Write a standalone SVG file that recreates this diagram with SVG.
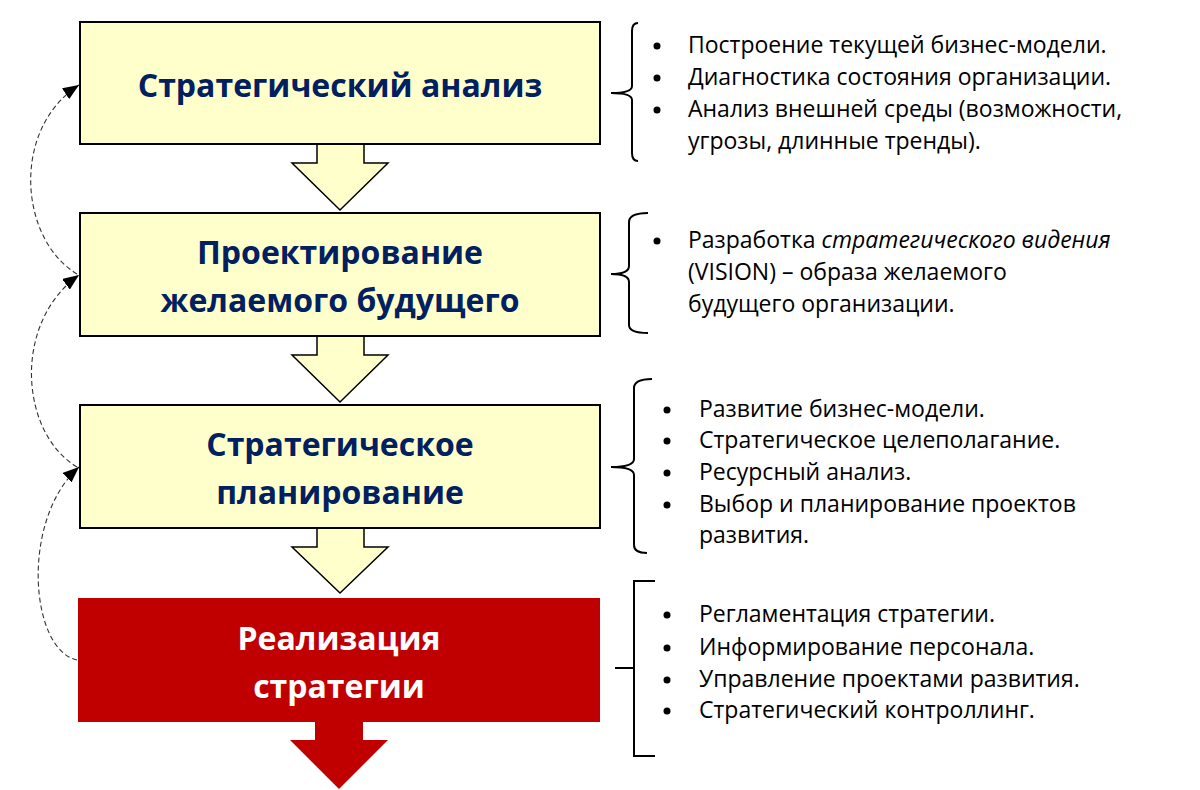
<svg xmlns="http://www.w3.org/2000/svg" width="1200" height="790" viewBox="0 0 1200 790">
<defs>
<style>
.box{fill:#FFFFCC;stroke:#000;stroke-width:2}
.red{fill:#C00000}
.title{font-family:"Open Sans","Noto Sans","DejaVu Sans",sans-serif;font-weight:bold;font-size:32px;fill:#002060;text-anchor:middle}
.wtitle{fill:#FFFFFF}
.txt{font-family:"Open Sans","Noto Sans","DejaVu Sans",sans-serif;font-size:23px;fill:#000}
.brace{fill:none;stroke:#000;stroke-width:2}
.dash{fill:none;stroke:#333;stroke-width:1.1;stroke-dasharray:5 3}
.blk{fill:#FFFFCC;stroke:#000;stroke-width:1.5;stroke-linejoin:miter}
</style>
<marker id="ah" markerUnits="userSpaceOnUse" markerWidth="17" markerHeight="13" refX="16" refY="6.5" orient="auto">
<path d="M0,0 L16,6.5 L0,13 z" fill="#000"/>
</marker>
</defs>
<rect width="1200" height="790" fill="#fff"/>

<g id="connectors">
<path class="blk" d="M317,144 L317,163 L292,163 L340,210 L388,163 L364,163 L364,144"/>
<path class="blk" d="M317,336 L317,355 L292,355 L340,402 L388,355 L364,355 L364,336"/>
<path class="blk" d="M317,528 L317,547 L292,547 L340,593 L388,547 L364,547 L364,528"/>
<path class="red" d="M315,722 L315,740 L290,740 L339,789 L388,740 L363,740 L363,722 z"/>
<path class="dash" d="M77,274 C20,240 10,130 79,85" marker-end="url(#ah)"/>
<path class="dash" d="M77,467 C20,433 12,323 79,275" marker-end="url(#ah)"/>
<path class="dash" d="M77,660 C30,650 20,520 79,467" marker-end="url(#ah)"/>
</g>

<g id="node-analysis">
<rect class="box" x="80" y="22" width="520" height="122"/>
<text class="title" x="340" y="97">Стратегический анализ</text>
</g>

<g id="node-vision">
<rect class="box" x="80" y="213" width="520" height="123"/>
<text class="title" x="340" y="264">Проектирование</text>
<text class="title" x="340" y="312">желаемого будущего</text>
</g>

<g id="node-planning">
<rect class="box" x="80" y="405" width="520" height="123"/>
<text class="title" x="340" y="456">Стратегическое</text>
<text class="title" x="340" y="504">планирование</text>
</g>

<g id="node-implementation">
<rect class="red" x="78" y="598" width="522" height="124"/>
<text class="title wtitle" x="339" y="650">Реализация</text>
<text class="title wtitle" x="339" y="698">стратегии</text>
</g>

<g id="list-analysis">
<path class="brace" d="M638,23 Q632,23 632,31 L632,86 Q632,93 611,93 Q632,93 632,100 L632,153 Q632,161 638,161"/>
<circle cx="657" cy="46" r="3.5"/>
<circle cx="657" cy="78" r="3.5"/>
<circle cx="657" cy="110" r="3.5"/>
<text class="txt" x="688" y="53">Построение текущей бизнес-модели.</text>
<text class="txt" x="688" y="85">Диагностика состояния организации.</text>
<text class="txt" x="688" y="117">Анализ внешней среды (возможности,</text>
<text class="txt" x="688" y="149">угрозы, длинные тренды).</text>
</g>

<g id="list-vision">
<path class="brace" d="M648,213 Q629,213 629,222 L629,266 Q629,274 611,274 Q629,274 629,282 L629,325 Q629,333 648,333"/>
<circle cx="657" cy="241" r="3.5"/>
<text class="txt" x="688" y="248">Разработка <tspan font-style="italic">стратегического видения</tspan></text>
<text class="txt" x="688" y="280">(VISION) – образа желаемого</text>
<text class="txt" x="688" y="312">будущего организации.</text>
</g>

<g id="list-planning">
<path class="brace" d="M652,379 Q634,379 634,388 L634,459 Q634,467 611,467 Q634,467 634,475 L634,545 Q634,553 647,553"/>
<circle cx="667" cy="410" r="3.5"/>
<circle cx="667" cy="441" r="3.5"/>
<circle cx="667" cy="473" r="3.5"/>
<circle cx="667" cy="505" r="3.5"/>
<text class="txt" x="699" y="417">Развитие бизнес-модели.</text>
<text class="txt" x="699" y="448">Стратегическое целеполагание.</text>
<text class="txt" x="699" y="480">Ресурсный анализ.</text>
<text class="txt" x="699" y="512">Выбор и планирование проектов</text>
<text class="txt" x="699" y="543">развития.</text>
</g>

<g id="list-implementation">
<path class="brace" d="M655,581 L634,581 L634,756 L655,756 M615,668 L634,668"/>
<circle cx="667" cy="615" r="3.5"/>
<circle cx="667" cy="648" r="3.5"/>
<circle cx="667" cy="680" r="3.5"/>
<circle cx="667" cy="711" r="3.5"/>
<text class="txt" x="699" y="622">Регламентация стратегии.</text>
<text class="txt" x="699" y="655">Информирование персонала.</text>
<text class="txt" x="699" y="687">Управление проектами развития.</text>
<text class="txt" x="699" y="718">Стратегический контроллинг.</text>
</g>
</svg>
